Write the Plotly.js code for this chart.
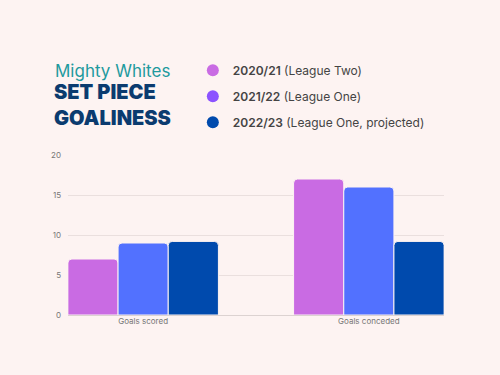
<!DOCTYPE html>
<html>
<head>
<meta charset="utf-8">
<script src="https://cdn.plot.ly/plotly-3.0.1.min.js"></script>
<style>html,body{margin:0;padding:0;background:#FDF3F2;}#chart{width:500px;height:375px;}</style>
</head>
<body>
<div id="chart"></div>
<script>
const categories = ["Goals scored", "Goals conceded"];
const seriesNames = ["2020/21", "2021/22", "2022/23"];
const seriesNotes = ["(League Two)", "(League One)", "(League One, projected)"];
const season2020 = [7, 17];
const season2021 = [9, 16];
const season2022 = [9.2, 9.2];
const yTicks = [0, 5, 10, 15, 20];

const barColors = ["#C96BE3", "#5271FF", "#004AAD"];
const legendColors = ["#C96BE3", "#8C52FF", "#004AAD"];
const bg = "#FDF3F2";
const values = [season2020, season2021, season2022];

const traces = [];
values.forEach((v, i) => {
  traces.push({
    type: "bar", x: categories, y: v, name: seriesNames[i],
    marker: {color: barColors[i], line: {color: bg, width: 1}},
    showlegend: false, hoverinfo: "skip"
  });
});
values.forEach((v, i) => {
  traces.push({
    type: "scatter", mode: "markers", x: [null], y: [null],
    name: "<span style='font-weight:600'>" + seriesNames[i] + "</span> " + seriesNotes[i],
    legendgroup: "g" + i,
    marker: {color: legendColors[i], size: 12, symbol: "circle"}
  });
});

const layout = {
  width: 500, height: 375,
  paper_bgcolor: bg, plot_bgcolor: bg,
  margin: {l: 68, r: 56, t: 155, b: 60},
  barmode: "group", bargap: 0.333, bargroupgap: 0, barcornerradius: 4,
  showlegend: true,
  legend: {x: 0.332, xanchor: "left", y: 1.62, yanchor: "top",
    bgcolor: "rgba(0,0,0,0)", tracegroupgap: 7, itemwidth: 30,
    font: {family: "Inter, 'Open Sans', sans-serif", size: 12, color: "#444"}},
  xaxis: {type: "category", range: [-0.333, 1.333], showgrid: false, zeroline: false,
    showline: false, ticks: "", tickfont: {family: "Inter, sans-serif", size: 8, color: "#777"}},
  yaxis: {range: [0, 20], tickvals: yTicks, showgrid: true, gridcolor: "#EADFDE", gridwidth: 1,
    zeroline: true, zerolinecolor: "#DCD2D1", zerolinewidth: 1, ticks: "", ticklabelstandoff: 6,
    tickfont: {family: "Inter, sans-serif", size: 8, color: "#777"}},
  annotations: [
    {text: "Mighty Whites", xref: "paper", yref: "paper", x: -0.04, y: 1.525, xanchor: "left", yanchor: "middle",
      showarrow: false, font: {family: "Inter, sans-serif", size: 17, color: "#1E9A9E"}},
    {text: "SET PIECE", xref: "paper", yref: "paper", x: -0.042, y: 1.394, xanchor: "left", yanchor: "middle",
      showarrow: false, font: {family: "Inter, sans-serif", size: 20, color: "#0B3B6F", weight: 900}},
    {text: "GOALINESS", xref: "paper", yref: "paper", x: -0.042, y: 1.231, xanchor: "left", yanchor: "middle",
      showarrow: false, font: {family: "Inter, sans-serif", size: 20, color: "#0B3B6F", weight: 900}}
  ]
};

Plotly.newPlot("chart", traces, layout, {displayModeBar: false, staticPlot: true});
</script>
</body>
</html>
